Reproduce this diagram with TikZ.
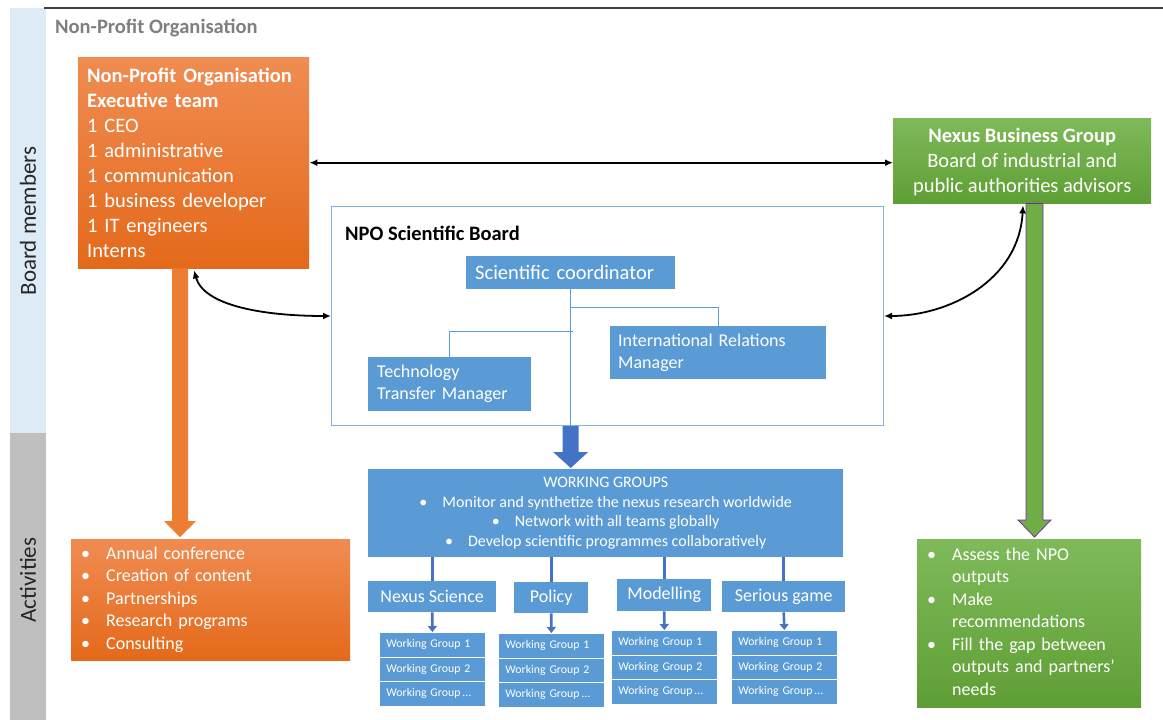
\documentclass[tikz,border=0pt]{standalone}
\usepackage{fontspec}
\setmainfont{Carlito}
\usetikzlibrary{arrows.meta,calc}

\definecolor{orTop}{HTML}{F08C52}
\definecolor{orBot}{HTML}{E4691A}
\definecolor{orArrow}{HTML}{ED7D31}
\definecolor{grTop}{HTML}{7EBA59}
\definecolor{grBot}{HTML}{5F9E35}
\definecolor{grArrow}{HTML}{70AD47}
\definecolor{purpleEdge}{HTML}{7030A0}
\definecolor{boxBlue}{HTML}{5B9BD5}
\definecolor{darkBlue}{HTML}{4472C4}
\definecolor{boardEdge}{HTML}{7FB0DE}
\definecolor{bandBlue}{HTML}{DDEBF7}
\definecolor{bandGray}{HTML}{BFBFBF}
\definecolor{titleGray}{HTML}{7F7F7F}
\definecolor{ruleGray}{HTML}{404040}

\newcommand\fs[2]{\fontsize{#1}{#2}\selectfont}

\begin{document}
\begin{tikzpicture}[x=1pt,y=-1pt,
  orbox/.style={top color=orTop, bottom color=orBot, text=white, inner sep=0pt, anchor=north west},
  grbox/.style={top color=grTop, bottom color=grBot, text=white, inner sep=0pt, anchor=north west},
  bluebox/.style={fill=boxBlue, text=white, inner sep=0pt, anchor=north west},
  catbox/.style={bluebox, font=\fs{18}{22}},
  wgitem/.style={bluebox, draw=white, line width=0.8pt, minimum width=106, minimum height=24.5,
    text width=92, inner xsep=7, align=left, font=\fs{11.8}{14}},
  dbl/.style={black, line width=1.8pt, {Latex[length=8pt,width=7pt]}-{Latex[length=8pt,width=7pt]}},
  orgline/.style={boxBlue, line width=0.9pt},
  feed/.style={darkBlue, line width=3pt},
  smallarr/.style={darkBlue, line width=2.6pt, -{Triangle[width=9pt,length=6pt]}},
  bandlabel/.style={rotate=90, font=\fs{23}{26}, text=black!85}
]
\useasboundingbox (0,0) rectangle (1163,720);

% side bands and top rule
\fill[bandBlue] (10,8) rectangle (46,433);
\fill[bandGray] (10,433) rectangle (46,720);
\draw[ruleGray, line width=1.2pt] (44,8) -- (1163,8);
\node[bandlabel] (lblBoard) at (28,221) {Board members};
\node[bandlabel] (lblAct) at (28,580) {Activities};
\node[anchor=base west, inner sep=0pt, text=titleGray, font=\fs{20.5}{25}\bfseries] (title) at (55,33) {Non-Profit Organisation};

% executive team
\node[orbox, minimum width=231, minimum height=211, text width=213, inner xsep=9, align=left,
  font=\fs{20.5}{25}] (exec) at (78,57)
  {\textbf{Non-Profit Organisation}\\\textbf{Executive team}\\1 CEO\\1 administrative\\1 communication\\1 business developer\\1 IT engineers\\Interns};

% business group
\node[grbox, minimum width=258, minimum height=85, align=center, font=\fs{20.5}{25}] (nexus) at (893,118)
  {\rule{0pt}{17pt}\textbf{Nexus Business Group}\\Board of industrial and\\public authorities advisors};

% activities
\node[orbox, minimum width=279, minimum height=121, text width=259, inner xsep=10, align=left,
  font=\fs{18}{22.5}] (oract) at (71,539)
  {\rule{0pt}{16pt}\begin{tabular}{@{}p{25pt}@{}l@{}}
   \textbullet & Annual conference\\
   \textbullet & Creation of content\\
   \textbullet & Partnerships\\
   \textbullet & Research programs\\
   \textbullet & Consulting
   \end{tabular}};
\node[grbox, minimum width=224, minimum height=168, text width=204, inner xsep=10, align=left,
  font=\fs{18}{22.5}] (gract) at (917,539)
  {\rule{0pt}{16pt}\begin{tabular}{@{}p{25pt}@{}l@{}}
   \textbullet & Assess the NPO\\
               & outputs\\
   \textbullet & Make\\
               & recommendations\\
   \textbullet & Fill the gap between\\
               & outputs and partners’\\
               & needs
   \end{tabular}};

% scientific board
\node[draw=boardEdge, line width=1pt, fill=white, minimum width=552, minimum height=219,
  inner sep=0pt, anchor=north west] (board) at (331,206) {};
\node[anchor=base west, inner sep=0pt, font=\fs{20.5}{25}\bfseries] (boardTitle) at (345,240) {NPO Scientific Board};
\node[bluebox, minimum width=209, minimum height=33, text width=191, inner xsep=9, align=left,
  font=\fs{20.5}{25}] (coord) at (466,256) {Scientific coordinator};
\node[bluebox, minimum width=163, minimum height=54, text width=145, inner xsep=9, align=left,
  font=\fs{18}{22}] (ttm) at (368,357) {Technology\\Transfer Manager};
\node[bluebox, minimum width=216, minimum height=53, text width=200, inner xsep=8, align=left,
  font=\fs{18}{22}] (irm) at (610,326) {International Relations\\Manager};

\draw[orgline] (coord.south) -- (coord.south |- board.south);
\draw[orgline] (coord.south |- 0,307) -| (irm.north);
\draw[orgline] ([xshift=2pt]coord.south |- 0,331) -| (ttm.north);

% working groups
\node[bluebox, minimum width=475, minimum height=88, align=center, font=\fs{16}{19.5}] (wgbox) at (368,469)
  {WORKING GROUPS\\
   \makebox[23pt][l]{\textbullet}Monitor and synthetize the nexus research worldwide\\
   \makebox[23pt][l]{\textbullet}Network with all teams globally\\
   \makebox[23pt][l]{\textbullet}Develop scientific programmes collaboratively};

\node[catbox, minimum width=128, minimum height=31] (ns)  at (368,581) {Nexus Science};
\node[catbox, minimum width=74,  minimum height=31] (pol) at (514,582) {Policy};
\node[catbox, minimum width=94,  minimum height=32] (mod) at (617,579) {Modelling};
\node[catbox, minimum width=123, minimum height=31] (ser) at (722,581) {Serious game};

\foreach \c in {ns,pol,mod,ser}
  \draw[feed] (\c.north |- wgbox.south) -- (\c.north);

\node[wgitem] (a1) at (379,632)   {\mbox{Working Group 1}};
\node[wgitem] (a2) at (379,656.5) {\mbox{Working Group 2}};
\node[wgitem] (a3) at (379,681)   {\mbox{Working Group\,...}};
\node[wgitem] (b1) at (498,633)   {\mbox{Working Group 1}};
\node[wgitem] (b2) at (498,657.5) {\mbox{Working Group 2}};
\node[wgitem] (b3) at (498,682)   {\mbox{Working Group\,...}};
\node[wgitem] (c1) at (611,630)   {\mbox{Working Group 1}};
\node[wgitem] (c2) at (611,654.5) {\mbox{Working Group 2}};
\node[wgitem] (c3) at (611,679)   {\mbox{Working Group\,...}};
\node[wgitem] (d1) at (731,630)   {\mbox{Working Group 1}};
\node[wgitem] (d2) at (731,654.5) {\mbox{Working Group 2}};
\node[wgitem] (d3) at (731,679)   {\mbox{Working Group\,...}};

\draw[smallarr] (ns.south)  -- (a1.north);
\draw[smallarr] (pol.south) -- (b1.north);
\draw[smallarr] (mod.south) -- (c1.north);
\draw[smallarr] (ser.south) -- (d1.north);

% block arrows
\coordinate (oTop) at ([xshift=102pt]exec.south west);
\coordinate (oTip) at (oTop |- oract.north);
\fill[orArrow] ($(oTop)+(-8,0)$) -- ($(oTop)+(8,0)$) -- ($(oTip)+(8,-18)$) -- ($(oTip)+(16,-18)$)
  -- ($(oTip)+(0,-2)$) -- ($(oTip)+(-16,-18)$) -- ($(oTip)+(-8,-18)$) -- cycle;

\coordinate (bTop) at (coord.south |- board.south);
\coordinate (bTip) at (coord.south |- wgbox.north);
\fill[darkBlue] ($(bTop)+(-8,0)$) -- ($(bTop)+(8,0)$) -- ($(bTip)+(8,-17)$) -- ($(bTip)+(17.5,-17)$)
  -- ($(bTip)+(0,-1)$) -- ($(bTip)+(-17.5,-17)$) -- ($(bTip)+(-8,-17)$) -- cycle;

\coordinate (gTop) at ([xshift=141.5pt]nexus.south west);
\coordinate (gTip) at (gTop |- gract.north);
\draw[fill=grArrow, draw=purpleEdge, line width=0.8pt] ($(gTop)+(-8.5,0)$) -- ($(gTop)+(8.5,0)$)
  -- ($(gTip)+(8.5,-19)$) -- ($(gTip)+(16.5,-19)$) -- ($(gTip)+(0,-2)$) -- ($(gTip)+(-16.5,-19)$)
  -- ($(gTip)+(-8.5,-19)$) -- cycle;

% links between the boards
\draw[dbl] (exec.east) -- (exec.east -| nexus.west);
\draw[dbl] ([xshift=116pt,yshift=-2pt]exec.south west) .. controls +(10,36) and +(-65,0) .. (board.west);
\draw[dbl] ([xshift=130pt,yshift=-2pt]nexus.south west) .. controls +(-4,75) and +(65,0) .. (board.east);
\end{tikzpicture}
\end{document}
